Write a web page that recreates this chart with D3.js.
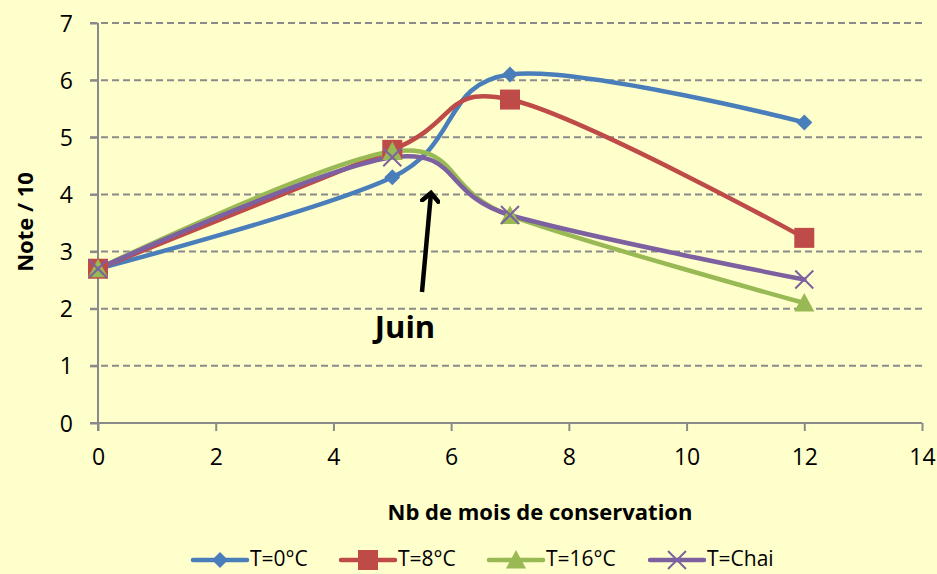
<!DOCTYPE html>
<html>
<head>
<meta charset="utf-8">
<script src="https://cdn.jsdelivr.net/npm/d3@7"></script>
<style>
  body { margin: 0; background: #FFFFCC; }
  svg { display: block; font-family: "Open Sans", "Noto Sans", sans-serif; }
  .grid line { stroke: #8a8a8a; stroke-width: 2; stroke-dasharray: 7 4; }
  .axis path, .axis line { stroke: #8a8a8a; stroke-width: 2; }
</style>
</head>
<body>
<div id="chart"></div>
<script>
// data
var months = [0, 5, 7, 12];
var t0 = [2.7, 4.3, 6.1, 5.26];
var t8 = [2.7, 4.78, 5.66, 3.24];
var t16 = [2.7, 4.75, 3.63, 2.1];
var tChai = [2.7, 4.65, 3.64, 2.51];
var seriesNames = ["T=0°C", "T=8°C", "T=16°C", "T=Chai"];
var xTicks = [0, 2, 4, 6, 8, 10, 12, 14];
var yTicks = [0, 1, 2, 3, 4, 5, 6, 7];

var colors = ["#4A7EBB", "#BE4B48", "#98B954", "#7D60A0"];
var shapes = ["diamond", "square", "triangle", "cross"];
var allSeries = [t0, t8, t16, tChai];

var W = 937, H = 574;
var margin = { top: 23, left: 98 },
    width = 922 - margin.left,
    height = 423 - margin.top;

var svg = d3.select("#chart").append("svg")
    .attr("width", W)
    .attr("height", H);

svg.append("rect").attr("width", W).attr("height", H).attr("fill", "#FFFFCC");

var g = svg.append("g")
    .attr("transform", "translate(" + margin.left + "," + margin.top + ")");

var x = d3.scaleLinear().domain([0, 14]).range([0, width]);
var y = d3.scaleLinear().domain([0, 7]).range([height, 0]);

// dashed gridlines
g.append("g").attr("class", "grid")
    .selectAll("line")
    .data(yTicks.filter(function(d){ return d > 0; }))
    .enter().append("line")
    .attr("x1", -8).attr("x2", width)
    .attr("y1", function(d){ return y(d); })
    .attr("y2", function(d){ return y(d); });

var xAxis = d3.axisBottom(x).tickValues(xTicks).tickFormat(d3.format("d"))
    .tickSize(8).tickPadding(18).tickSizeOuter(0);
var yAxis = d3.axisLeft(y).tickValues(yTicks).tickFormat(d3.format("d"))
    .tickSize(8).tickPadding(17).tickSizeOuter(0);

g.append("g").attr("class", "x axis")
    .attr("transform", "translate(0," + height + ")")
    .call(xAxis);
g.append("g").attr("class", "y axis")
    .call(yAxis);
g.selectAll(".axis").attr("font-family", null).attr("font-size", null);
g.selectAll(".axis .tick text").attr("font-size", 23).attr("fill", "#000");
g.selectAll(".y.axis .tick text").attr("dy", "0.35em");
g.selectAll(".x.axis .tick text").attr("dy", "0.71em");
g.selectAll(".x.axis .domain").attr("d", "M-8,0H" + width);
g.selectAll(".y.axis .domain").attr("d", "M0,0V" + (height + 8));

// smooth lines like excel
var line = d3.line()
    .x(function(d){ return x(d[0]); })
    .y(function(d){ return y(d[1]); })
    .curve(d3.curveCardinal.tension(0));

function marker(sel, shape, color, cx, cy, s) {
  if (shape === "diamond") {
    sel.append("path")
      .attr("d", "M" + cx + "," + (cy - s) + "L" + (cx + s) + "," + cy + "L" + cx + "," + (cy + s) + "L" + (cx - s) + "," + cy + "Z")
      .attr("fill", color);
  } else if (shape === "square") {
    sel.append("rect")
      .attr("x", cx - s).attr("y", cy - s)
      .attr("width", 2 * s).attr("height", 2 * s)
      .attr("fill", color);
  } else if (shape === "triangle") {
    sel.append("path")
      .attr("d", "M" + cx + "," + (cy - s) + "L" + (cx + s) + "," + (cy + s * 0.85) + "L" + (cx - s) + "," + (cy + s * 0.85) + "Z")
      .attr("fill", color);
  } else {
    sel.append("path")
      .attr("d", "M" + (cx - s) + "," + (cy - s) + "L" + (cx + s) + "," + (cy + s) + "M" + (cx + s) + "," + (cy - s) + "L" + (cx - s) + "," + (cy + s))
      .attr("stroke", color).attr("stroke-width", 2).attr("fill", "none");
  }
}
var markerSize = [8, 10, 10, 9];

allSeries.forEach(function(vals, i){
  var pts = months.map(function(m, j){ return [m, vals[j]]; });
  g.append("path")
    .datum(pts)
    .attr("d", line)
    .attr("fill", "none")
    .attr("stroke", colors[i])
    .attr("stroke-width", 4.5)
    .attr("stroke-linecap", "round");
});
allSeries.forEach(function(vals, i){
  var mg = g.append("g");
  months.forEach(function(m, j){
    marker(mg, shapes[i], colors[i], x(m), y(vals[j]), markerSize[i]);
  });
});

// annotation arrow + Juin
var defs = svg.append("defs");
defs.append("marker").attr("id", "arrow")
    .attr("viewBox", "0 0 10 10").attr("refX", 5).attr("refY", 5)
    .attr("markerWidth", 4.5).attr("markerHeight", 4.5).attr("orient", "auto")
    .append("path").attr("d", "M1,1 L5,5 L1,9").attr("fill", "none")
    .attr("stroke", "#000").attr("stroke-width", 2.2).attr("stroke-linecap", "round");
svg.append("line")
    .attr("x1", 422).attr("y1", 292).attr("x2", 431).attr("y2", 193)
    .attr("stroke", "#000").attr("stroke-width", 4.5)
    .attr("marker-end", "url(#arrow)");
svg.append("text")
    .attr("x", 405).attr("y", 338)
    .attr("text-anchor", "middle")
    .attr("font-size", 31).attr("font-weight", "bold")
    .text("Juin");

// axis titles
svg.append("text")
    .attr("transform", "translate(33,222) rotate(-90)")
    .attr("text-anchor", "middle")
    .attr("font-size", 22).attr("font-weight", "bold")
    .text("Note / 10");
svg.append("text")
    .attr("x", 540).attr("y", 520)
    .attr("text-anchor", "middle")
    .attr("font-size", 22).attr("font-weight", "bold")
    .text("Nb de mois de conservation");

// legend
var legX = [193, 341, 489, 650];
var leg = svg.append("g").attr("class", "legend");
seriesNames.forEach(function(name, i){
  var lg = leg.append("g");
  lg.append("line")
    .attr("x1", legX[i]).attr("x2", legX[i] + 54)
    .attr("y1", 560).attr("y2", 560)
    .attr("stroke", colors[i]).attr("stroke-width", 4.5).attr("stroke-linecap", "round");
  marker(lg, shapes[i], colors[i], legX[i] + 27, 560, markerSize[i]);
  lg.append("text")
    .attr("x", legX[i] + 57).attr("y", 566)
    .attr("font-size", 21)
    .text(name);
});
</script>
</body>
</html>
